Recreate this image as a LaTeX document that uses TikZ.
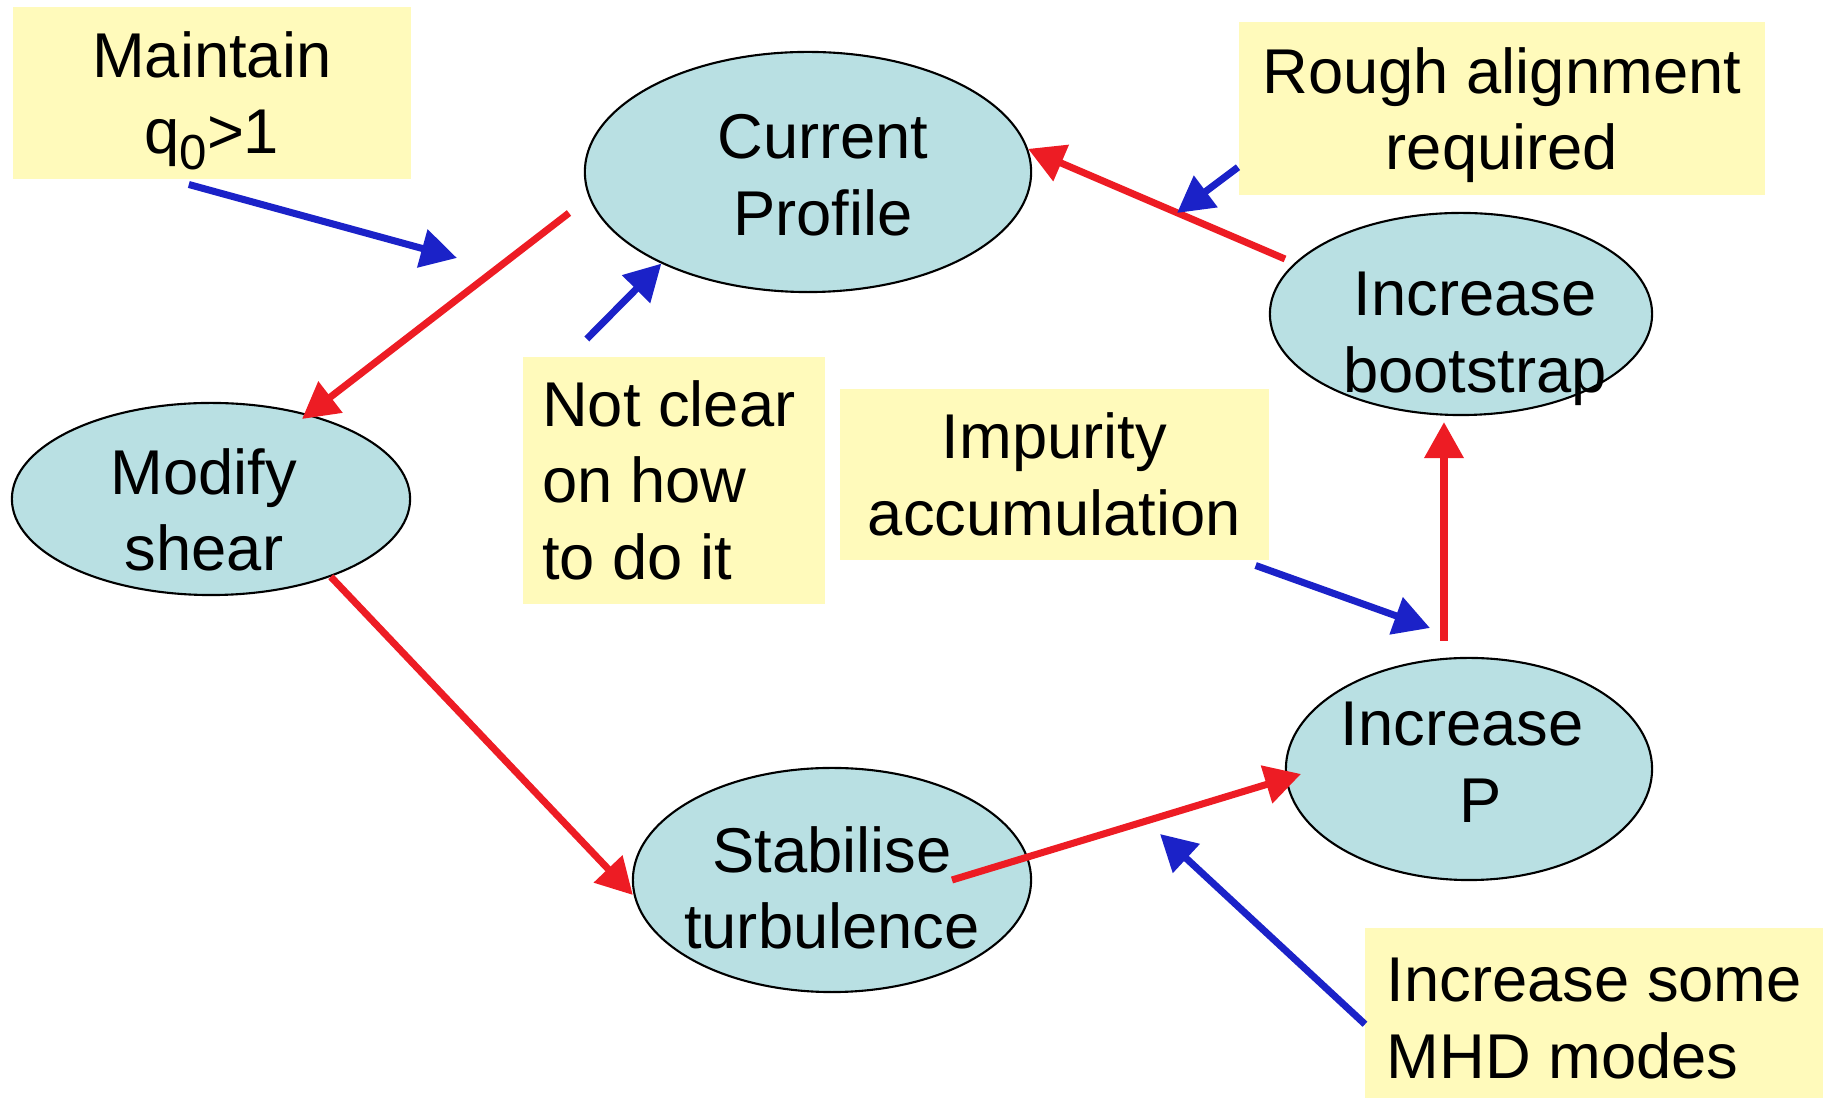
\documentclass[tikz,border=0pt]{standalone}
\usepackage{fontspec}
\setmainfont{Liberation Sans}
\usetikzlibrary{shapes.geometric}
\usetikzlibrary{arrows.meta}
\definecolor{note-yellow}{HTML}{FFFABB}
\definecolor{step-blue}{HTML}{B9E0E3}
\definecolor{loop-red}{HTML}{ED1C24}
\definecolor{hint-blue}{HTML}{1B22C8}

\begin{document}
\begin{tikzpicture}[x=0.01cm, y=-0.01cm,
  font=\fontsize{18}{21.8}\selectfont,
  stepnode/.style={ellipse, draw, line width=0.6pt, fill=step-blue, inner sep=0pt},
  steptext/.style={inner sep=0pt, align=center},
  notebox/.style={rectangle, fill=note-yellow, inner sep=0pt, anchor=north west},
  loopline/.style={draw=loop-red, line width=2pt, -{Triangle[length=0.36cm,width=0.38cm]}},
  hintline/.style={draw=hint-blue, line width=2pt, -{Triangle[length=0.36cm,width=0.38cm]}}]
\useasboundingbox (0,0) rectangle (1823,1098);
% steps of the loop
\node[stepnode, minimum width=4.46cm, minimum height=2.40cm] (curr) at (808,172) {};
\node[stepnode, minimum width=3.98cm, minimum height=1.92cm] (shear) at (211,499) {};
\node[stepnode, minimum width=3.82cm, minimum height=2.02cm] (boot) at (1461,314) {};
\node[stepnode, minimum width=3.66cm, minimum height=2.22cm] (incp) at (1469,769) {};
\node[stepnode, minimum width=3.98cm, minimum height=2.24cm] (stab) at (832,880) {};
% their texts sit a bit off centre
\node[steptext] (curr-text) at ([shift={(15,3)}]curr) {Current\\Profile};
\node[steptext] (shear-text) at ([shift={(-7,11)}]shear) {Modify\\shear};
\node[steptext] (boot-text) at ([shift={(14,25)}]boot) {Increase\\bootstrap};
\node[steptext] (incp-text) at ([shift={(-7,-7)}]incp) {Increase\\\hspace{0.6em}P};
\node[steptext] (stab-text) at ([shift={(0,8)}]stab) {Stabilise\\turbulence};
% notes
\node[notebox, minimum width=3.98cm, minimum height=1.72cm] (q0) at (12,6) {};
\node[notebox, minimum width=5.26cm, minimum height=1.73cm] (rough) at (1238,21) {};
\node[notebox, minimum width=3.02cm, minimum height=2.47cm] (clear) at (522,356) {};
\node[notebox, minimum width=4.29cm, minimum height=1.71cm] (imp) at (839,388) {};
\node[notebox, minimum width=4.59cm, minimum height=1.71cm] (mhd) at (1364,927) {};
\node[steptext] (q0-text) at ([shift={(0,8)}]q0) {Maintain\\q\raisebox{-0.25em}{\fontsize{14}{14}\selectfont 0}>1};
\node[steptext] (rough-text) at ([shift={(0,7)}]rough) {Rough alignment\\required};
\node[steptext, align=left] (clear-text) at ([shift={(-5,0)}]clear) {Not clear\\on how\\to do it};
\node[steptext] (imp-text) at (imp) {Impurity\\accumulation};
\node[steptext, align=left] (mhd-text) at ([shift={(0,5)}]mhd) {Increase some\\MHD modes};
% free ends
\coordinate (q0-tip) at (457,258);
\coordinate (curr-out) at (569,213);
\coordinate (rough-tip) at (1177,213);
\coordinate (imp-tip) at (1430,628);
\coordinate (mhd-tip) at (1160,834);
% red loop
\draw[loopline] (curr-out) -- ([shift={(91,-80)}]shear.center);
\draw[loopline] (shear.-33) -- ([shift={(1,15)}]stab.west);
\draw[loopline] ([shift={(120,0)}]stab.center) -- ([shift={(-168,5)}]incp.center);
\draw[loopline] ([shift={(-25,-16)}]incp.north) -- ([shift={(-17,6)}]boot.south);
\draw[loopline] ([shift={(-176,-55)}]boot.center) -- (curr.6);
% blue notes
\draw[hintline] ([shift={(-23,5)}]q0.south) -- (q0-tip);
\draw[hintline] ([shift={(-87,-17)}]clear.north) -- (curr.212);
\draw[hintline] ([shift={(0,59)}]rough.west) -- (rough-tip);
\draw[hintline] ([shift={(-14,5)}]imp.south east) -- (imp-tip);
\draw[hintline] ([shift={(1,11)}]mhd.west) -- (mhd-tip);
\end{tikzpicture}
\end{document}
